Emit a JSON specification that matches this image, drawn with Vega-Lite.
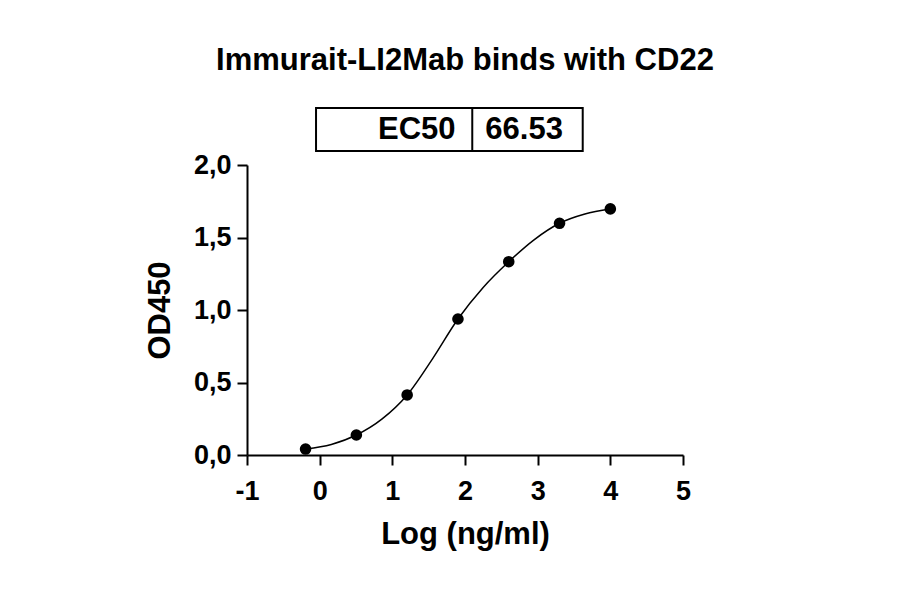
{
  "$schema": "https://vega.github.io/schema/vega-lite/v6.json",
  "width": 436,
  "height": 290,
  "autosize": {"type": "none"},
  "padding": {"left": 247, "top": 165, "right": 217, "bottom": 139},
  "background": "white",
  "config": {
    "view": {"stroke": null},
    "font": "Liberation Sans",
    "axis": {
      "grid": false,
      "domainColor": "black",
      "domainWidth": 2,
      "tickColor": "black",
      "tickWidth": 2,
      "tickSize": 10,
      "labelFont": "Liberation Sans",
      "labelFontWeight": "bold",
      "labelFontSize": 27,
      "labelColor": "black",
      "labelFlush": false,
      "labelOverlap": false,
      "titleFont": "Liberation Sans",
      "titleFontWeight": "bold",
      "titleFontSize": 31,
      "titleColor": "black"
    }
  },
  "title": {
    "text": "Immurait-LI2Mab binds with CD22",
    "font": "Liberation Sans",
    "fontSize": 31,
    "fontWeight": "bold",
    "color": "black",
    "anchor": "middle",
    "frame": "group",
    "baseline": "alphabetic",
    "offset": 6
  },
  "datasets": {
    "points": [
      {"logc": -0.194, "od": 0.041},
      {"logc": 0.505, "od": 0.138},
      {"logc": 1.204, "od": 0.414},
      {"logc": 1.903, "od": 0.938},
      {"logc": 2.602, "od": 1.333},
      {"logc": 3.301, "od": 1.598},
      {"logc": 4.0, "od": 1.697}
    ],
    "curve": [
      {"logc": -0.194, "od": 0.041},
      {"logc": 0.16, "od": 0.073},
      {"logc": 0.505, "od": 0.138},
      {"logc": 0.86, "od": 0.249},
      {"logc": 1.204, "od": 0.414},
      {"logc": 1.555, "od": 0.665},
      {"logc": 1.903, "od": 0.938},
      {"logc": 2.25, "od": 1.156},
      {"logc": 2.602, "od": 1.333},
      {"logc": 2.95, "od": 1.484},
      {"logc": 3.301, "od": 1.598},
      {"logc": 3.65, "od": 1.662},
      {"logc": 4.0, "od": 1.697}
    ],
    "table": [
      {"param": "EC50", "value": "66.53"}
    ]
  },
  "layer": [
    {
      "data": {"name": "curve"},
      "mark": {"type": "line", "color": "black", "strokeWidth": 1.5, "interpolate": "monotone"},
      "encoding": {
        "x": {
          "field": "logc",
          "type": "quantitative",
          "scale": {"domain": [-1, 5], "nice": false, "zero": false},
          "axis": {"title": "Log (ng/ml)", "values": [-1, 0, 1, 2, 3, 4, 5], "labelExpr": "toString(datum.value)", "labelPadding": 13, "titlePadding": 15}
        },
        "y": {
          "field": "od",
          "type": "quantitative",
          "scale": {"domain": [0, 2], "nice": false},
          "axis": {
            "title": "OD450",
            "values": [0, 0.5, 1, 1.5, 2],
            "labelExpr": "replace(format(datum.value, '.1f'), '.', ',')",
            "labelPadding": 6,
            "titlePadding": 17
          }
        }
      }
    },
    {
      "data": {"name": "points"},
      "mark": {"type": "point", "filled": true, "color": "black", "size": 135, "opacity": 1},
      "encoding": {
        "x": {"field": "logc", "type": "quantitative"},
        "y": {"field": "od", "type": "quantitative"}
      }
    },
    {
      "data": {"name": "table"},
      "mark": {"type": "rect", "fill": null, "fillOpacity": 0, "stroke": "black", "strokeWidth": 2},
      "encoding": {
        "x": {"datum": -0.05, "type": "quantitative"},
        "x2": {"datum": 3.62},
        "y": {"datum": 2.097, "type": "quantitative"},
        "y2": {"datum": 2.393}
      }
    },
    {
      "data": {"name": "table"},
      "mark": {"type": "rule", "color": "black", "strokeWidth": 2},
      "encoding": {
        "x": {"datum": 2.1, "type": "quantitative"},
        "y": {"datum": 2.097, "type": "quantitative"},
        "y2": {"datum": 2.393}
      }
    },
    {
      "data": {"name": "table"},
      "mark": {"type": "text", "align": "right", "baseline": "alphabetic", "font": "Liberation Sans", "fontWeight": "bold", "fontSize": 31, "color": "black"},
      "encoding": {
        "x": {"datum": 1.87, "type": "quantitative"},
        "y": {"datum": 2.18, "type": "quantitative"},
        "text": {"field": "param"}
      }
    },
    {
      "data": {"name": "table"},
      "mark": {"type": "text", "align": "left", "baseline": "alphabetic", "font": "Liberation Sans", "fontWeight": "bold", "fontSize": 31, "color": "black"},
      "encoding": {
        "x": {"datum": 2.28, "type": "quantitative"},
        "y": {"datum": 2.18, "type": "quantitative"},
        "text": {"field": "value"}
      }
    }
  ]
}
